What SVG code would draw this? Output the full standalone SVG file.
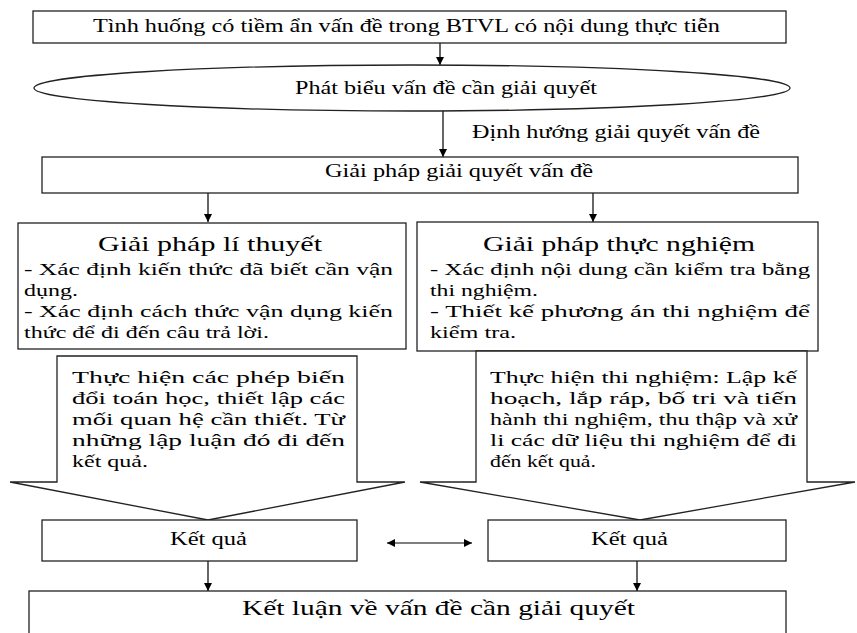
<svg xmlns="http://www.w3.org/2000/svg" width="857" height="633" viewBox="0 0 857 633">
<defs>
<marker id="ah" viewBox="0 0 10 10" refX="10" refY="5" markerWidth="8" markerHeight="8" markerUnits="userSpaceOnUse" orient="auto-start-reverse">
<path d="M0,0 L10,5 L0,10 Z" fill="#000"/>
</marker>
<style>
.box{fill:#fff;stroke:#222;stroke-width:1.3}
.ln{fill:none;stroke:#000;stroke-width:1.2}
text{font-family:"Liberation Serif","Times New Roman",serif;fill:#000}
.t19{font-size:19px}
.t18{font-size:18px}
.tb{font-size:17px}
.tt{font-size:21px}
</style>
</defs>
<rect width="857" height="633" fill="#fff"/>
<g id="connectors">
<line class="ln" x1="440" y1="43" x2="440" y2="65" marker-end="url(#ah)"/>
<line class="ln" x1="443" y1="111" x2="443" y2="157" marker-end="url(#ah)"/>
<line class="ln" x1="208" y1="193" x2="208" y2="222" marker-end="url(#ah)"/>
<line class="ln" x1="593" y1="193" x2="593" y2="222" marker-end="url(#ah)"/>
<line class="ln" x1="208" y1="561" x2="208" y2="591" marker-end="url(#ah)"/>
<line class="ln" x1="637" y1="561" x2="637" y2="591" marker-end="url(#ah)"/>
<line class="ln" x1="387" y1="543" x2="472" y2="543" marker-start="url(#ah)" marker-end="url(#ah)"/>
<text class="t18" x="472" y="138" textLength="288" lengthAdjust="spacingAndGlyphs">Định hướng giải quyết vấn đề</text>
</g>
<g id="n1">
<rect class="box" x="33" y="11" width="753" height="32"/>
<text class="t19" x="93" y="32" textLength="627" lengthAdjust="spacingAndGlyphs">Tình huống có tiềm ẩn vấn đề trong BTVL có nội dung thực tiễn</text>
</g>
<g id="n2">
<ellipse class="box" cx="412" cy="88" rx="378" ry="23"/>
<text class="t19" x="295" y="94" textLength="302" lengthAdjust="spacingAndGlyphs">Phát biểu vấn đề cần giải quyết</text>
</g>
<g id="n3">
<rect class="box" x="42" y="157" width="756" height="36"/>
<text class="t18" x="325" y="177" textLength="268" lengthAdjust="spacingAndGlyphs">Giải pháp giải quyết vấn đề</text>
</g>
<g id="n4">
<rect class="box" x="18" y="223" width="388" height="126"/>
<text class="tt" x="98" y="251" textLength="224" lengthAdjust="spacingAndGlyphs">Giải pháp lí thuyết</text>
<text class="tb" x="24" y="275" textLength="369" lengthAdjust="spacingAndGlyphs">- Xác định kiến thức đã biết cần vận</text>
<text class="tb" x="24" y="296" textLength="54" lengthAdjust="spacingAndGlyphs">dụng.</text>
<text class="tb" x="24" y="317" textLength="369" lengthAdjust="spacingAndGlyphs">- Xác định cách thức vận dụng kiến</text>
<text class="tb" x="24" y="338" textLength="245" lengthAdjust="spacingAndGlyphs">thức để đi đến câu trả lời.</text>
</g>
<g id="n5">
<rect class="box" x="417" y="222" width="401" height="129"/>
<text class="tt" x="483" y="251" textLength="272" lengthAdjust="spacingAndGlyphs">Giải pháp thực nghiệm</text>
<text class="tb" x="430" y="275" textLength="380" lengthAdjust="spacingAndGlyphs">- Xác định nội dung cần kiểm tra bằng</text>
<text class="tb" x="430" y="296" textLength="108" lengthAdjust="spacingAndGlyphs">thi nghiệm.</text>
<text class="tb" x="430" y="317" textLength="380" lengthAdjust="spacingAndGlyphs">- Thiết kế phương án thi nghiệm để</text>
<text class="tb" x="430" y="338" textLength="86" lengthAdjust="spacingAndGlyphs">kiểm tra.</text>
</g>
<g id="n6">
<path class="box" d="M57,356 L357,356 L357,482 L405,482 L208,520 L10,482 L57,482 Z"/>
<text class="tb" x="72" y="383" textLength="273" lengthAdjust="spacingAndGlyphs">Thực hiện các phép biến</text>
<text class="tb" x="72" y="404" textLength="273" lengthAdjust="spacingAndGlyphs">đổi toán học, thiết lập các</text>
<text class="tb" x="72" y="425" textLength="273" lengthAdjust="spacingAndGlyphs">mối quan hệ cần thiết. Từ</text>
<text class="tb" x="72" y="446" textLength="273" lengthAdjust="spacingAndGlyphs">những lập luận đó đi đến</text>
<text class="tb" x="72" y="467" textLength="76" lengthAdjust="spacingAndGlyphs">kết quả.</text>
</g>
<g id="n7">
<path class="box" d="M476,351 L807,351 L807,482 L855,482 L640,520 L420,482 L476,482 Z"/>
<text class="tb" x="490" y="383" textLength="307" lengthAdjust="spacingAndGlyphs">Thực hiện thi nghiệm: Lập kế</text>
<text class="tb" x="490" y="404" textLength="307" lengthAdjust="spacingAndGlyphs">hoạch, lắp ráp, bố tri và tiến</text>
<text class="tb" x="490" y="425" textLength="307" lengthAdjust="spacingAndGlyphs">hành thi nghiệm, thu thập và xử</text>
<text class="tb" x="490" y="446" textLength="307" lengthAdjust="spacingAndGlyphs">li các dữ liệu thi nghiệm để đi</text>
<text class="tb" x="490" y="467" textLength="106" lengthAdjust="spacingAndGlyphs">đến kết quả.</text>
</g>
<g id="n8">
<rect class="box" x="42" y="520" width="315" height="41"/>
<text class="t18" x="170" y="545" textLength="77" lengthAdjust="spacingAndGlyphs">Kết quả</text>
</g>
<g id="n9">
<rect class="box" x="488" y="520" width="298" height="41"/>
<text class="t18" x="591" y="545" textLength="77" lengthAdjust="spacingAndGlyphs">Kết quả</text>
</g>
<g id="n10">
<rect class="box" x="29" y="591" width="757" height="60"/>
<text class="tt" x="242" y="615" textLength="393" lengthAdjust="spacingAndGlyphs">Kết luận về vấn đề cần giải quyết</text>
</g>
</svg>
